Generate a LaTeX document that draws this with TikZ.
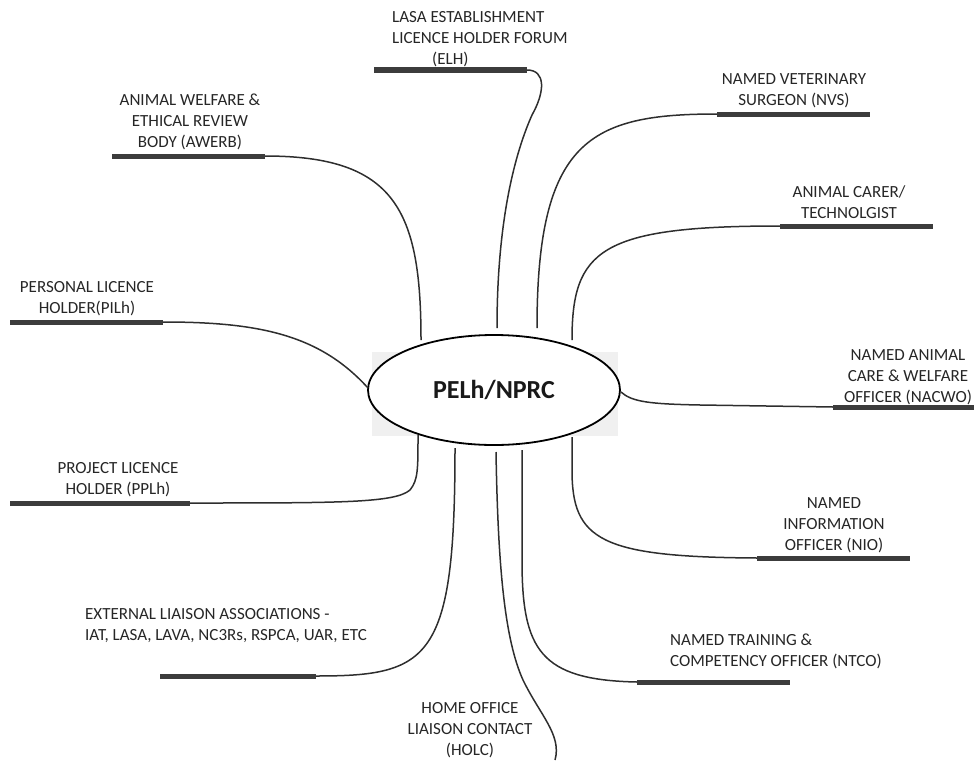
\documentclass[tikz,border=0pt]{standalone}
\usepackage{fontspec}
\setmainfont{Carlito}
\usetikzlibrary{shapes.geometric}
\definecolor{ink}{HTML}{262626}
\definecolor{barc}{HTML}{3C3C3C}
\definecolor{wirec}{HTML}{2E2E2E}
\definecolor{bgpatch}{HTML}{F0F0F0}
\begin{document}
\begin{tikzpicture}[x=1pt,y=-1pt,
  lbl/.style={font=\fontsize{17}{21}\selectfont, text=ink, inner sep=0pt, align=center},
  lblL/.style={lbl, align=left},
  bar/.style={line width=5pt, draw=barc},
  wire/.style={line width=1.5pt, draw=wirec},
]
\useasboundingbox (0,0) rectangle (974,760);

% background patch behind hub
\fill[bgpatch] (372,352) rectangle (618,436);

% hub
\node[draw, ellipse, line width=1.8pt, fill=white, minimum width=252pt, minimum height=110pt,
      inner sep=0pt, font=\bfseries\fontsize{26}{30}\selectfont, text=black!90] (hub) at (494,390) {PELh/NPRC};

% ---- labels ----
\node[lblL, anchor=west] (elhT) at (392,39) {LASA ESTABLISHMENT\\LICENCE HOLDER FORUM\\\hspace*{40pt}(ELH)};
\node[lbl] (awT) at (190,122) {ANIMAL WELFARE \&\\ETHICAL REVIEW\\BODY (AWERB)};
\node[lbl] (nvsT) at (794,91) {NAMED VETERINARY\\SURGEON (NVS)};
\node[lbl] (carT) at (849,202) {ANIMAL CARER/\\TECHNOLGIST};
\node[lbl] (pilT) at (87,299) {PERSONAL LICENCE\\HOLDER(PILh)};
\node[lbl] (nacT) at (908,377) {NAMED ANIMAL\\CARE \& WELFARE\\OFFICER (NACWO)};
\node[lbl] (pplT) at (118,480) {PROJECT LICENCE\\HOLDER (PPLh)};
\node[lbl] (nioT) at (834,525) {NAMED\\INFORMATION\\OFFICER (NIO)};
\node[lblL, anchor=west] (extT) at (85,626) {EXTERNAL LIAISON ASSOCIATIONS -\\IAT, LASA, LAVA, NC3Rs, RSPCA, UAR, ETC};
\node[lblL, anchor=west] (ntcT) at (670,651) {NAMED TRAINING \&\\COMPETENCY OFFICER (NTCO)};
\node[lbl] (holT) at (470,730) {HOME OFFICE\\LIAISON CONTACT\\(HOLC)};

% ---- bar end points ----
\coordinate (elhL) at (374,70);  \coordinate (elhR) at (527,70);
\coordinate (awL)  at (112,156); \coordinate (awR)  at (265,156);
\coordinate (nvsL) at (717,114); \coordinate (nvsR) at (870,114);
\coordinate (carL) at (780,226); \coordinate (carR) at (933,226);
\coordinate (pilL) at (10,322);  \coordinate (pilR) at (163,322);
\coordinate (nacL) at (833,407); \coordinate (nacR) at (974,407);
\coordinate (pplL) at (10,503);  \coordinate (pplR) at (190,503);
\coordinate (nioL) at (757,558); \coordinate (nioR) at (910,558);
\coordinate (extL) at (160,676); \coordinate (extR) at (316,676);
\coordinate (ntcL) at (637,682); \coordinate (ntcR) at (790,682);
\coordinate (holE) at (555,760);

% ---- hub attachment points ----
\coordinate (hAW)  at (421,340);
\coordinate (hELH) at (497,328);
\coordinate (hNVS) at (537,328);
\coordinate (hCAR) at (572,340);
\coordinate (hPIL) at (368,388);
\coordinate (hNAC) at (621,392);
\coordinate (hPPL) at (418,435);
\coordinate (hEXT) at (455,448);
\coordinate (hHOL) at (496,452);
\coordinate (hNTC) at (522,450);
\coordinate (hNIO) at (572,437);

% ---- connectors ----
\draw[wire] (elhR) .. controls (546,70) and (545,92) .. (532,115)
                   .. controls (512,160) and (497,230) .. (hELH);
\draw[wire] (awR) .. controls (395,156) and (421,210) .. (hAW);
\draw[wire] (nvsL) .. controls (590,114) and (537,140) .. (hNVS);
\draw[wire] (carL) .. controls (600,226) and (572,250) .. (hCAR);
\draw[wire] (pilR) .. controls (260,322) and (320,335) .. (hPIL);
\draw[wire] (hNAC) .. controls (632,402) and (650,404) .. (700,405) -- (nacL);
\draw[wire] (pplR) .. controls (340,503) and (395,503) .. (410,490)
                   .. controls (418,480) and (418,470) .. (hPPL);
\draw[wire] (extR) .. controls (430,676) and (455,660) .. (hEXT);
\draw[wire] (hHOL) .. controls (498,570) and (505,640) .. (523,680)
                   .. controls (540,715) and (562,735) .. (holE);
\draw[wire] (hNTC) -- (522,560) .. controls (522,650) and (540,680) .. (ntcL);
\draw[wire] (hNIO) -- (572,470) .. controls (572,540) and (600,557) .. (nioL);

% ---- bars ----
\foreach \a/\b in {elhL/elhR, awL/awR, nvsL/nvsR, carL/carR, pilL/pilR, nacL/nacR,
                   pplL/pplR, nioL/nioR, extL/extR, ntcL/ntcR}
  \draw[bar] (\a) -- (\b);

\end{tikzpicture}
\end{document}
